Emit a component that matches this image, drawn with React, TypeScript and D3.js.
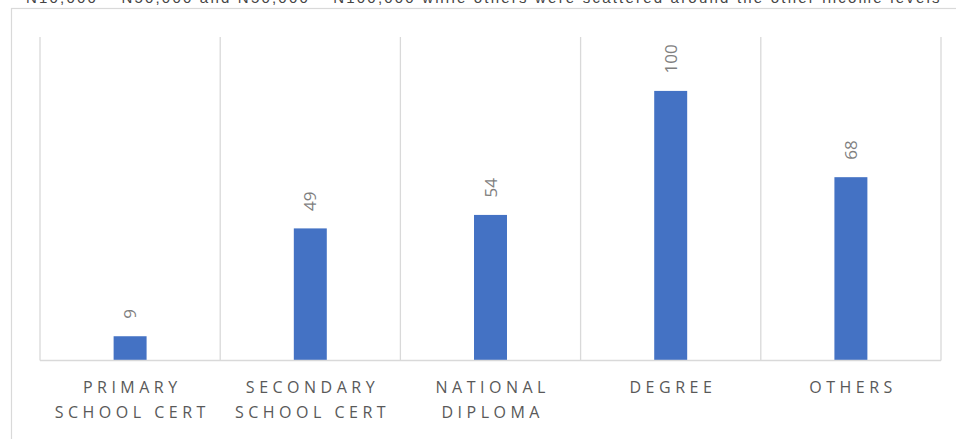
import React from "react";
import * as d3 from "d3";

// Qualification categories (each entry is the wrapped label lines)
const categories: string[][] = [
  ["PRIMARY", "SCHOOL CERT"],
  ["SECONDARY", "SCHOOL CERT"],
  ["NATIONAL", "DIPLOMA"],
  ["DEGREE"],
  ["OTHERS"],
];
const counts: number[] = [9, 49, 54, 100, 68];
const yDomain: [number, number] = [0, 120];

const W = 956;
const H = 439;
const plot = { left: 40, right: 941, top: 37, bottom: 360.5 };
const FONT = "'Open Sans', 'Noto Sans', sans-serif";

export default function App() {
  const keys = categories.map((c) => c.join(" "));
  const x = d3
    .scaleBand<string>()
    .domain(keys)
    .range([plot.left, plot.right])
    .paddingInner(0)
    .paddingOuter(0);
  const y = d3.scaleLinear().domain(yDomain).range([plot.bottom, plot.top]);
  const barW = x.bandwidth() * 0.183;

  const boundaries = [...keys.map((k) => x(k)!), plot.right];

  return (
    <svg
      width={W}
      height={H}
      style={{ position: "absolute", left: 0, top: 0, background: "#fff" }}
    >
      {/* running paragraph text above the chart, cut by the page edge */}
      <text
        x={26}
        y={2.5}
        fontFamily="'Liberation Sans', sans-serif"
        fontSize={15}
        fill="#444"
        letterSpacing={2.2}
      >
        N10,000 – N50,000 and N50,000 – N100,000 while others were scattered around the other income levels
      </text>

      {/* chart area border */}
      <rect
        x={11.5}
        y={8.5}
        width={1000}
        height={600}
        fill="#fff"
        stroke="#d9d9d9"
        strokeWidth={1.2}
      />

      {/* vertical category gridlines */}
      {boundaries.map((bx, i) => (
        <line
          key={i}
          x1={bx}
          x2={bx}
          y1={plot.top}
          y2={plot.bottom}
          stroke="#d9d9d9"
          strokeWidth={1.3}
        />
      ))}

      {/* bars */}
      {keys.map((k, i) => {
        const cx = x(k)! + x.bandwidth() / 2;
        return (
          <rect
            key={k}
            x={cx - barW / 2}
            y={y(counts[i])}
            width={barW}
            height={y(0) - y(counts[i])}
            fill="#4472c4"
          />
        );
      })}

      {/* baseline */}
      <line
        x1={plot.left}
        x2={plot.right}
        y1={plot.bottom}
        y2={plot.bottom}
        stroke="#d9d9d9"
        strokeWidth={1.5}
      />

      {/* rotated value labels */}
      {keys.map((k, i) => {
        const cx = x(k)! + x.bandwidth() / 2;
        const ly = y(counts[i]) - 17.5;
        return (
          <text
            key={k}
            transform={`translate(${cx},${ly}) rotate(-90)`}
            dy="0.36em"
            fontFamily={FONT}
            fontSize={17}
            fill="#7f7f7f"
            textAnchor="start"
          >
            {counts[i]}
          </text>
        );
      })}

      {/* category labels */}
      {categories.map((lines, i) => {
        const cx = x(keys[i])! + x.bandwidth() / 2;
        return (
          <text
            key={keys[i]}
            fontFamily={FONT}
            fontSize={16}
            fill="#595959"
            textAnchor="middle"
            letterSpacing={4.5}
          >
            {lines.map((ln, j) => (
              <tspan key={j} x={cx + 2.2} y={392.5 + j * 25}>
                {ln}
              </tspan>
            ))}
          </text>
        );
      })}
    </svg>
  );
}
